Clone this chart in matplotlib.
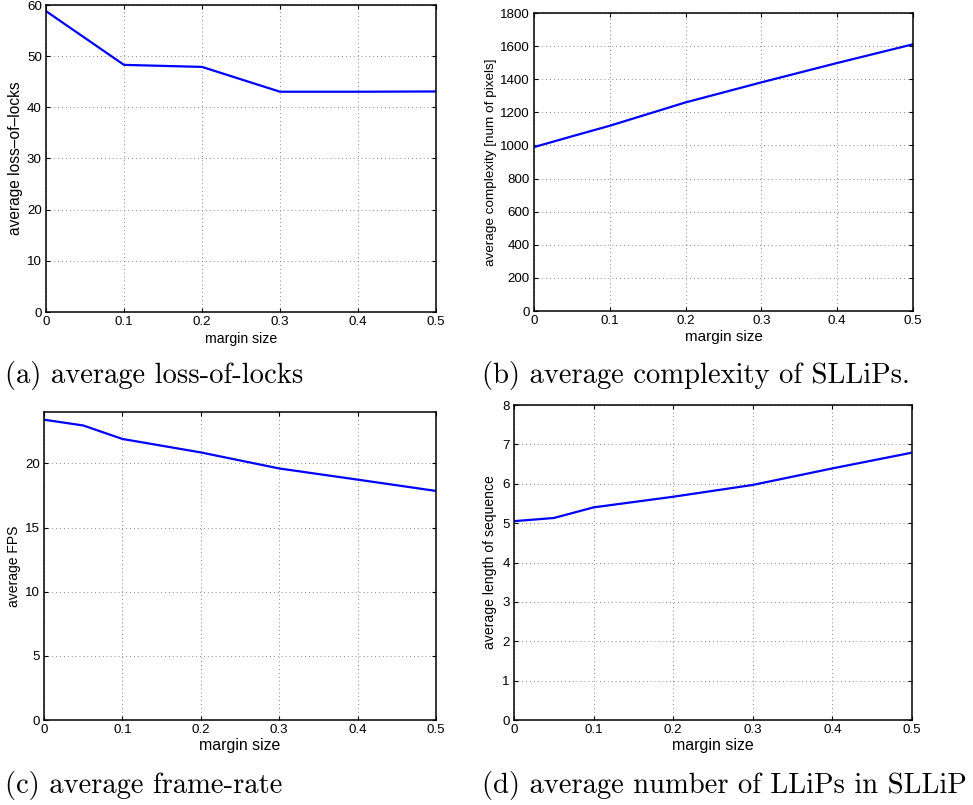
import matplotlib
matplotlib.use("Agg")
import matplotlib.pyplot as plt

margin = [0.0, 0.05, 0.1, 0.2, 0.3, 0.4, 0.5]
margin_a = [0.0, 0.1, 0.2, 0.3, 0.4, 0.5]

loss_of_locks = [58.8, 48.3, 47.9, 43.05, 43.05, 43.1]
complexity = [990, 1055, 1119, 1260, 1381, 1498, 1611]
fps = [23.4, 22.95, 21.9, 20.85, 19.6, 18.73, 17.85]
seq_length = [5.05, 5.13, 5.40, 5.67, 5.97, 6.39, 6.79]

x_ticks = [0, 0.1, 0.2, 0.3, 0.4, 0.5]
x_ticklabels = ["0", "0.1", "0.2", "0.3", "0.4", "0.5"]

captions = [
    "(a) average loss-of-locks",
    "(b) average complexity of SLLiPs.",
    "(c) average frame-rate",
    "(d) average number of LLiPs in SLLiP",
]

W, H = 973, 805
plt.rcParams["font.family"] = ["Liberation Sans", "DejaVu Sans"]

fig = plt.figure(figsize=(W / 100, H / 100), dpi=100)


def px_axes(left, right, top, bottom):
    return fig.add_axes([left / W, 1 - bottom / H, (right - left) / W, (bottom - top) / H])


def style(ax, xs, ys, ylim, yticks, ylabel, ylab_size, xlab_size, ylab_x, xlab_y):
    ax.plot(xs, ys, color="#0000ff", lw=1.6)
    ax.set_xlim(0, 0.5)
    ax.set_ylim(*ylim)
    ax.set_xticks(x_ticks)
    ax.set_xticklabels(x_ticklabels)
    ax.set_yticks(yticks)
    ax.set_yticklabels([str(t) for t in yticks])
    ax.tick_params(direction="in", length=3, width=0.8, top=True, right=True,
                   labelsize=9.6, pad=3)
    ax.grid(True, linestyle=(0, (1, 3)), color="#888888", linewidth=0.7)
    for sp in ax.spines.values():
        sp.set_linewidth(1.1)
    ax.set_ylabel(ylabel, fontsize=ylab_size)
    ax.set_xlabel("margin size", fontsize=xlab_size)
    ax.yaxis.set_label_coords(ylab_x, 0.5)
    ax.xaxis.set_label_coords(0.5, xlab_y)


ax_a = px_axes(46, 436, 5, 312)
style(ax_a, margin_a, loss_of_locks, (0, 60), [0, 10, 20, 30, 40, 50, 60],
      "average loss\u2013of\u2013locks", 11.2, 10.1, -0.059, -0.066)

ax_b = px_axes(534, 913, 13, 311)
style(ax_b, margin, complexity, (0, 1800), list(range(0, 1801, 200)),
      "average complexity [num of pixels]", 9.7, 11, -0.0976, -0.064)

ax_c = px_axes(44, 436, 412, 720)
style(ax_c, margin, fps, (0, 24), [0, 5, 10, 15, 20],
      "average FPS", 10, 11.4, -0.0587, -0.058)

ax_d = px_axes(514, 912, 405, 720)
style(ax_d, margin, seq_length, (0, 8), list(range(0, 9)),
      "average length of sequence", 10.1, 11.5, -0.0427, -0.057)

cap_pos = [(5, 383), (482, 383), (5, 793), (482, 793)]
for (cx, cy), txt in zip(cap_pos, captions):
    fig.text(cx / W, 1 - cy / H, txt, fontsize=20.6, family="cmr10",
             ha="left", va="baseline")

fig.savefig("out.png", dpi=100)
